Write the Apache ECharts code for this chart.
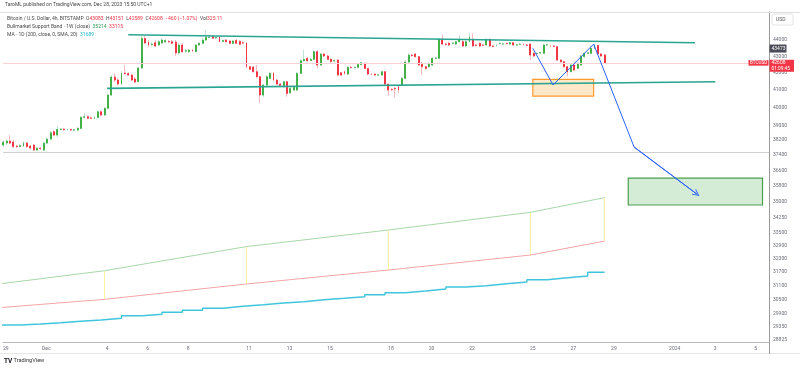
<!DOCTYPE html>
<html><head><meta charset="utf-8">
<script src="https://cdn.jsdelivr.net/npm/echarts@6/dist/echarts.min.js"></script>
<style>html,body{margin:0;padding:0;background:#fff}#c{width:800px;height:370px}</style>
</head><body><div id="c"></div><script>
// ---------- helpers ----------
function ts(s){ const p=s.split(' '); const d=p[0].split('-').map(Number); return Date.UTC(d[0],d[1]-1,d[2],p[1]?+p[1]:0); }

// ---------- data ----------
const firstCandle = '2023-11-28 21';   // 4h candles, BITSTAMP BTCUSD (UTC+1)
// [open, close, low, high]
const ohlc = [
[37930,38091,37823,38199],[38037,38145,37930,38253],[38145,38037,37984,38470],[38091,37850,37770,38199],
[37877,37850,37770,37930],[37850,37903,37797,37984],[37877,38037,37823,38145],[38037,37850,37770,38091],
[37877,37770,37716,37930],[37930,37663,37610,37984],[37663,37770,37610,37823],[37770,37743,37663,37823],
[37663,38037,37610,38091],[38037,38253,37984,38361],[38253,38595,38199,38688],[38650,38470,38416,38743],
[38470,38780,38361,38962],[38780,38798,38715,38852],[38798,38760,38715,38852],[38760,38780,38715,38825],
[38770,38743,38688,38825],[38743,38754,38688,38798],[38743,38835,38688,38907],[38835,39445,38798,39517],
[39445,39480,39378,39684],[39480,39390,39350,39573],[39405,39390,39350,39517],[39390,39433,39350,39489],
[39433,39757,39378,39853],[39757,39573,39517,39825],[39573,39950,39517,40023],[39950,40707,39910,40765],
[40707,41757,40650,41875],[41757,41580,41463,41994],[41580,41346,41287,41698],[41346,41994,41287,42113],
[41994,41964,41875,42472],[41964,41875,41816,42053],[41875,41580,41521,41934],[41639,41463,41404,41757],
[41492,42292,41463,42352],[42292,44094,42232,44250],[44094,43814,43752,44313],[43876,43690,43567,44000],
[43721,43752,43629,43876],[43833,43629,43567,44000],[43690,43895,43629,44000],[43814,44000,43752,44125],
[43876,43969,43814,44063],[43907,43889,43814,44000],[43895,43795,43752,44000],[43876,43199,43016,44000],
[43199,43690,43077,43814],[43690,43278,43199,43814],[43321,43340,43199,43444],[43278,43382,43199,43444],
[43382,43321,43260,43444],[43278,43690,43260,43752],[43690,43795,43629,43876],[43795,44000,43752,44125],
[44000,44170,43938,44626],[44170,44188,44125,44313],[44207,44107,44063,44313],[44125,44156,44063,44250],
[44170,43895,43876,44250],[43907,43969,43876,44063],[44000,43895,43845,44063],[43938,43795,43752,44000],
[43795,43938,43752,44000],[43969,43795,43752,44063],[43907,43733,43690,44000],[43833,43814,43752,43907],
[43814,42370,42292,43876],[42370,42214,42172,42412],[42352,42073,42023,42412],[42073,41777,41728,42472],
[41777,40707,40250,41816],[40707,41287,40593,41346],[41287,41777,41229,41875],[41680,41974,41639,42073],
[41974,41580,41521,42053],[41580,41346,41287,41639],[41346,41258,41171,41404],[41190,41482,41113,41521],
[41482,40804,40612,41521],[40842,41095,40765,41171],[40996,41152,40939,41229],[40996,41974,40939,42053],
[41974,42731,41934,42834],[42731,42815,42653,43400],[42875,42731,42653,42955],[42743,42804,42713,42895],
[42815,43278,42773,43382],[43278,42472,42272,43382],[42472,43138,42412,43199],[43138,43016,42955,43199],
[43016,42815,42773,43077],[42815,42671,42623,42895],[42713,42731,42653,42804],[42773,41875,41816,42834],
[42011,41875,41816,42053],[42073,41974,41905,42143],[41934,42334,41875,42412],[42334,42322,42262,42412],
[42322,42334,42262,42382],[42334,42502,42292,42562],[42502,42611,42441,42653],[42575,42262,42232,42623],
[42262,41934,41875,42292],[41934,41917,41875,41994],[41934,41875,41816,41964],[41875,41887,41816,41934],
[41875,42073,41816,42113],[42073,41346,41287,42113],[41346,40996,40650,41375],[41037,41020,40939,41113],
[41095,41066,40535,41171],[41190,40996,40823,41229],[41287,41680,41229,41757],[41680,42653,41639,42773],
[42653,43077,42593,43199],[43077,43047,42955,43138],[43138,42975,42925,43199],[42975,42472,42412,43016],
[42575,42370,41875,42653],[42370,42272,42172,42412],[42370,42575,42292,42653],[42472,42875,42412,42955],
[42875,42895,42864,42955],[42875,44044,42834,44125],[44044,43752,43690,44313],[43752,43733,43629,43814],
[43795,43690,43629,43876],[43795,43814,43721,43876],[43752,43895,43690,43938],[43895,44044,43845,44313],
[43895,43629,43567,44000],[43629,43895,43567,43969],[43895,44170,43845,44418],[44044,43629,43567,44418],
[43690,43671,43598,43752],[43795,43629,43567,43845],[43690,43678,43629,43752],[43690,44044,43629,44094],
[44044,43629,43567,44094],[43629,43610,43536,43690],[43671,43690,43598,43752],[43783,43795,43721,43845],
[43752,43760,43690,43814],[43795,43783,43721,43845],[43752,43833,43690,43876],[43833,43690,43629,43876],
[43690,43700,43629,43752],[43733,43740,43690,43795],[43720,43700,43660,43780],[43690,43671,43629,43752],
[43752,43077,42773,43783],[43180,43016,42955,43260],[43168,43180,43077,43230],[43199,43217,43138,43260],
[43180,43690,43138,43752],[43690,43700,43629,43752],[43629,43620,43567,43690],[43629,43610,43567,43690],
[43588,42773,42713,43629],[42773,42671,42623,42834],[42671,42370,42322,42713],[42370,42073,41797,42412],
[42073,42472,42023,42532],[42472,42172,42113,42532],[42272,42575,42232,42653],[42472,43016,42412,43077],
[42975,43180,42925,43230],[43180,43217,43138,43260],[43180,43487,43138,43629],[43487,43660,43444,43752],
[43660,43138,43077,43690],[43138,43016,42955,43199],[43083,42608,42589,43151]
];

// Bullmarket Support Band (1W) – weekly points
const bandTimes = ['2023-11-26 21','2023-12-03 21','2023-12-10 21','2023-12-17 21','2023-12-24 21','2023-12-28 13'];
const bandUpper = [30970, 31760, 32860, 33640, 34490, 35214];
const bandLower = [30020, 30500, 31170, 31790, 32470, 33115];

// MA 1D (200) – daily steps starting 2023-11-28 17h
const maStart = '2023-11-28 17';
const maValues = [29414,29455,29510,29568,29623,29694,29803,29862,29947,30032,30117,30202,30270,30343,30399,
  30485,30545,30614,30701,30788,30862,30949,31037,31094,31182,31257,31359,31447,31523,31689];
const maEnd = '2023-12-28 13';

// drawings
const upperTrend = [['2023-12-05 01', 44330], ['2024-01-02 00', 43830]];
const lowerTrend = [['2023-12-04 00', 41095], ['2024-01-03 00', 41480]];
const bluePath = [['2023-12-25 00', 43490], ['2023-12-26 00', 41290], ['2023-12-28 00', 43750], ['2023-12-30 00', 37820], ['2024-01-02 02', 35400]];
const orangeBox = [['2023-12-25 00', 41620], ['2023-12-28 00', 40650]];
const greenBox = [['2023-12-29 17', 36200], ['2024-01-05 08', 34850]];
const hLinePrice = 37560;
const lastPrice = 42608;
const markPrice = 43473;
const countdown = '01:09:45';

// axes
const yTicks = [44000,43000,42000,41000,40000,39000,38200,37400,36600,35800,35000,34250,33500,32900,32300,31700,31100,30500,29900,29350,28825];
const xTickDates = ['2023-11-29','2023-12-01','2023-12-04','2023-12-06','2023-12-08','2023-12-11','2023-12-13','2023-12-15','2023-12-18','2023-12-20','2023-12-22','2023-12-25','2023-12-27','2023-12-29','2024-01-01','2024-01-03','2024-01-05'];
const xTickLabels = ['29','Dec','4','6','8','11','13','15','18','20','22','25','27','29','2024','3','5'];
const xRange = ['2023-11-28 20.45', '2024-01-05 15.4'];
const yRange = [28716, 45777];

// ---------- build ----------
const H4 = 4*3600e3, DAY = 24*3600e3;
const t0 = ts(firstCandle);
const candleT = ohlc.map((_, i) => t0 + i*H4);
const wickData = ohlc.map((r, i) => [candleT[i], r[0], r[1], r[2], r[3]]);
const bodyData = ohlc.map((r, i) => [candleT[i], r[0], r[1], Math.min(r[0], r[1]), Math.max(r[0], r[1])]);
const maT0 = ts(maStart);
const maData = maValues.map((v, i) => [maT0 + i*DAY, v]);
maData.push([ts(maEnd), maValues[maValues.length-1]]);
const upperData = bandTimes.map((t, i) => [ts(t), bandUpper[i]]);
const lowerData = bandTimes.map((t, i) => [ts(t), bandLower[i]]);
const yellowLinks = bandTimes.map((t, i) => ({coords: [[ts(t), bandUpper[i]], [ts(t), bandLower[i]]]}));
const pt = a => [ts(a[0]), a[1]];
const xTickTs = xTickDates.map(d => ts(d));
function tsF(s){ const p=s.split(' '); const d=p[0].split('-').map(Number); const h=parseFloat(p[1]); const hh=Math.floor(h); const mm=Math.round((h-hh)*100); return Date.UTC(d[0],d[1]-1,d[2],hh,mm); }

const FONT = 'Roboto, "Liberation Sans", sans-serif';
const TEAL = '#2aa592', BLUE = '#2962ff';
const FS = 5.0;
const chart = echarts.init(document.getElementById('c'), null, {renderer: 'canvas'});
const option = {
  animation: false,
  backgroundColor: '#ffffff',
  textStyle: {fontFamily: FONT},
  grid: {left: 3, right: 31, top: 12, bottom: 28, containLabel: false},
  xAxis: {
    type: 'value', min: tsF(xRange[0]), max: tsF(xRange[1]), scale: true,
    axisLine: {show: true, lineStyle: {color: '#b8b8b8', width: 1}},
    axisTick: {show: false}, splitLine: {show: false},
    axisLabel: {customValues: xTickTs, fontSize: FS, color: '#6a6d78', margin: 4, fontFamily: FONT,
      formatter: v => { const i = xTickTs.indexOf(v); return i >= 0 ? xTickLabels[i] : ''; }}
  },
  yAxis: {
    type: 'log', position: 'right', min: yRange[0], max: yRange[1],
    axisLine: {show: true, lineStyle: {color: '#9a9a9a', width: 1}},
    axisTick: {show: false}, splitLine: {show: false},
    axisLabel: {customValues: yTicks, fontSize: FS, color: '#6a6d78', margin: 4, fontFamily: FONT,
      formatter: v => String(Math.round(v))}
  },
  series: [
    {type: 'line', data: upperData, symbol: 'none', lineStyle: {color: '#a8d8a8', width: 1}, z: 2, silent: true},
    {type: 'line', data: lowerData, symbol: 'none', lineStyle: {color: '#f6a5a5', width: 1}, z: 2, silent: true},
    {type: 'lines', coordinateSystem: 'cartesian2d', data: yellowLinks, lineStyle: {color: '#fff3a0', width: 1, opacity: 1}, z: 1, silent: true},
    {type: 'line', data: maData, step: 'end', symbol: 'none', lineStyle: {color: '#40c6dc', width: 1.4}, z: 2, silent: true},
    {type: 'candlestick', data: wickData, barWidth: 0.8, silent: true, z: 3,
      itemStyle: {color: '#bfe3d8', color0: '#f7b9be', borderColor: '#bfe3d8', borderColor0: '#f7b9be', borderWidth: 1},
      markLine: {silent: true, symbol: ['none','none'], label: {show: false},
        data: [
          {yAxis: lastPrice, lineStyle: {color: '#fad2d5', width: 1, type: 'solid'}},
          {yAxis: hLinePrice, lineStyle: {color: '#d0d0d0', width: 1, type: 'solid'}}
        ]}
    },
    {type: 'candlestick', data: bodyData, barWidth: 1.4, silent: true, z: 4,
      itemStyle: {color: '#43b047', color0: '#f23645', borderColor: '#43b047', borderColor0: '#f23645', borderWidth: 1}},
    {type: 'line', data: upperTrend.map(pt), symbol: 'none', lineStyle: {color: TEAL, width: 1.6}, z: 5, silent: true,
      markArea: {silent: true, data: [
        [{coord: pt(orangeBox[0]), itemStyle: {color: 'rgba(255,152,0,0.22)', borderColor: '#ff9a2e', borderWidth: 1.2}}, {coord: pt(orangeBox[1])}],
        [{coord: pt(greenBox[0]), itemStyle: {color: 'rgba(76,175,80,0.24)', borderColor: '#4a9e4e', borderWidth: 1.2}}, {coord: pt(greenBox[1])}]
      ]}},
    {type: 'line', data: lowerTrend.map(pt), symbol: 'none', lineStyle: {color: TEAL, width: 1.6}, z: 5, silent: true},
    {type: 'line', data: bluePath.map(pt), symbol: 'none', lineStyle: {color: BLUE, width: 1}, z: 6, silent: true},
    {type: 'lines', coordinateSystem: 'cartesian2d', z: 6, silent: true,
      symbol: ['none', 'path://M0,10 L5,0 L10,10 L8.6,10 L5,3 L1.4,10 Z'], symbolSize: 7,
      data: [{coords: [pt(bluePath[bluePath.length-2]), pt(bluePath[bluePath.length-1])]}],
      lineStyle: {color: BLUE, width: 1, opacity: 1}}
  ]
};
chart.setOption(option);

// ---------- header, tags (positions from the library's scales) ----------
const yPix = v => chart.convertToPixel({yAxisIndex: 0}, v);
const gR = 769;
const yLast = yPix(lastPrice), yMark = yPix(markPrice);
const txt = (x, y, text, rich) => ({type: 'text', x, y, style: {text, fontSize: FS, fontFamily: FONT, fill: '#444', rich: rich || {}, verticalAlign: 'middle'}, z: 100});
const rich = {
  g: {fontSize: FS, fill: '#4a4a4a', fontFamily: FONT},
  r: {fontSize: FS, fill: '#f23645', fontFamily: FONT},
  gr: {fontSize: FS, fill: '#2e9e4f', fontFamily: FONT},
  c: {fontSize: FS, fill: '#22b8d0', fontFamily: FONT}
};
const graphics = [
  {type: 'line', shape: {x1: 0, y1: 12.5, x2: 800, y2: 12.5}, style: {stroke: '#e0e0e0', lineWidth: 1}, z: 90},
  {type: 'line', shape: {x1: 0, y1: 353.5, x2: 800, y2: 353.5}, style: {stroke: '#e6e6e6', lineWidth: 1}, z: 90},
  {type: 'line', shape: {x1: gR + 0.5, y1: 342, x2: gR + 0.5, y2: 354}, style: {stroke: '#9a9a9a', lineWidth: 1}, z: 90},
  txt(5, 5, 'TaroML published on TradingView.com, Dec 28, 2023 15:50 UTC+1'),
  txt(7, 19, '{g|Bitcoin / U.S. Dollar, 4h, BITSTAMP  O}{r|43083}{g|  H}{r|43151}{g|  L}{r|42589}{g|  C}{r|42608  −460 (−1.07%)}{g|  Vol}{r|325.11}', rich),
  txt(7, 27, '{g|Bullmarket Support Band · 1W (close)  }{gr|35214}{g|  }{r|33115}', rich),
  txt(7, 34.5, '{g|MA · 1D (200, close, 0, SMA, 20)  }{c|31689}', rich),
  {type: 'rect', shape: {x: 772, y: 14, width: 21, height: 11, r: 1.5}, style: {fill: '#fff', stroke: '#e3e3e3', lineWidth: 1}, z: 100},
  {type: 'text', x: 776, y: 19.5, style: {text: 'USD', fontSize: FS, fontFamily: FONT, fill: '#555', verticalAlign: 'middle'}, z: 101},
  {type: 'rect', shape: {x: gR + 0.5, y: yMark - 4, width: 17, height: 8}, style: {fill: '#4a4d57'}, z: 100},
  {type: 'text', x: gR + 2.5, y: yMark, style: {text: String(markPrice), fontSize: FS, fontFamily: FONT, fill: '#fff', verticalAlign: 'middle'}, z: 101},
  {type: 'rect', shape: {x: gR + 0.5, y: yLast - 3, width: 24.5, height: 12}, style: {fill: '#f23645'}, z: 100},
  {type: 'text', x: gR + 2.5, y: yLast + 0.2, style: {text: String(lastPrice), fontSize: FS, fontFamily: FONT, fill: '#fff', verticalAlign: 'middle'}, z: 101},
  {type: 'text', x: gR + 2.5, y: yLast + 5.6, style: {text: countdown, fontSize: 4.8, fontFamily: FONT, fill: '#fff', verticalAlign: 'middle'}, z: 101},
  {type: 'rect', shape: {x: 748.5, y: yLast - 2.7, width: 20, height: 5.6}, style: {fill: '#f23645'}, z: 100},
  {type: 'text', x: 750, y: yLast + 0.2, style: {text: 'BTCUSD', fontSize: 4.6, fontFamily: FONT, fill: '#fff', verticalAlign: 'middle'}, z: 101},
  {type: 'text', x: 4, y: 361, style: {text: 'TV', fontSize: 6.5, fontWeight: 'bold', fontFamily: FONT, fill: '#131722', verticalAlign: 'middle'}, z: 100},
  {type: 'text', x: 13.5, y: 361, style: {text: 'TradingView', fontSize: 5.6, fontFamily: FONT, fill: '#333', verticalAlign: 'middle'}, z: 100}
];
chart.setOption({graphic: graphics});
</script></body></html>
